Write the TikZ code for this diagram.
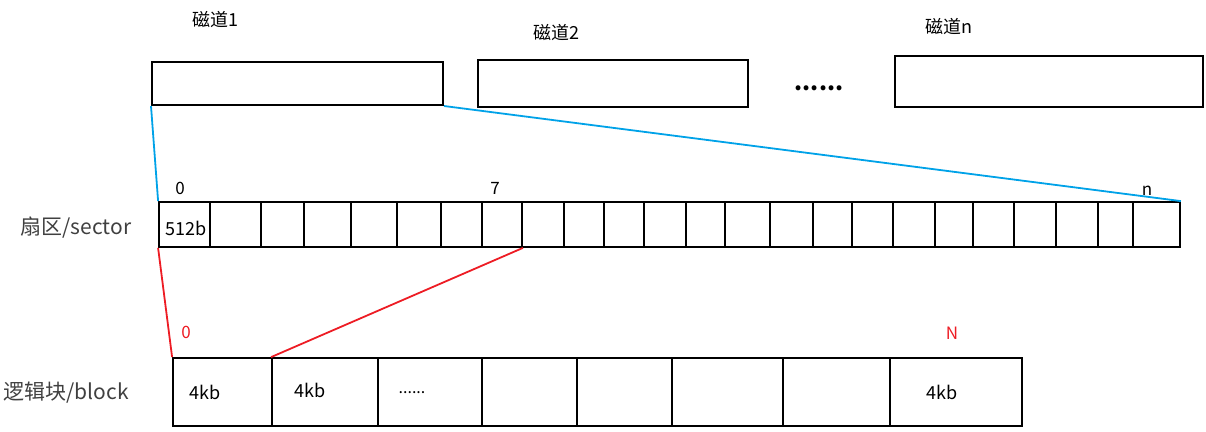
\documentclass[tikz,border=0pt]{standalone}
\usepackage{fontspec}
\setmainfont{Noto Sans CJK SC}
\usetikzlibrary{positioning}
\definecolor{paintBlue}{HTML}{00A2E8}
\definecolor{paintRed}{HTML}{ED1C24}
\definecolor{labelGray}{HTML}{404040}
\tikzset{
  track/.style={draw,line width=2pt,inner sep=0pt},
  cell/.style={draw,line width=1.8pt,minimum height=45pt,inner sep=0pt},
  blk/.style={draw,line width=1.8pt,minimum height=68pt,inner sep=0pt},
  rowname/.style={font=\fontsize{21}{23}\selectfont,text=labelGray,inner sep=0pt},
  trackname/.style={font=\fontsize{18}{20}\selectfont,inner sep=0pt},
  idx/.style={font=\fontsize{17}{19}\selectfont,inner sep=0pt},
  celltext/.style={font=\fontsize{18}{20}\selectfont,inner sep=0pt},
  blueline/.style={paintBlue,line width=1.8pt},
  redline/.style={paintRed,line width=1.8pt}
}
\begin{document}
\begin{tikzpicture}[x=1pt,y=-1pt]
  \useasboundingbox (0,0) rectangle (1206,431);
  % tracks
  \node[track,minimum width=291pt,minimum height=43pt] (t1) at (297.5,83.5) {};
  \node[track,minimum width=270pt,minimum height=47pt] (t2) at (613,83.5) {};
  \node[track,minimum width=308pt,minimum height=51pt] (tn) at (1049,81.5) {};
  \node[trackname] (t1name) at (215,20) {磁道1};
  \node[trackname] (t2name) at (556,33) {磁道2};
  \node[trackname] (tnname) at (949,27) {磁道n};
  \node[font=\fontsize{23}{25}\selectfont\bfseries,inner sep=0pt] (tdots) at (819,88) {......};
  % sectors
  \foreach \a/\b [count=\i from 0] in {159/210,210/261,261/304,304/351,351/397,397/441,441/482,482/522,522/564,564/604,604/644,644/686,686/725,725/770,770/813,813/852,852/893,893/935,935/973,973/1014,1014/1056,1056/1098,1098/1133,1133/1180}
    \node[cell,minimum width={(\b-\a)*1pt}] (s\i) at ({(\a+\b)/2},224.5) {};
  \node[rowname] (secname) at (76,228) {扇区/sector};
  \node[celltext] (s0text) at (186,228) {512b};
  \node[idx] (s0idx) at (180,188) {0};
  \node[idx] (s7idx) at (495,188) {7};
  \node[idx] (snidx) at (1147,191) {n};
  % blocks
  \foreach \a/\b [count=\i from 0] in {173/272,272/378,378/482,482/577,577/672,672/783,783/890,890/1022}
    \node[blk,minimum width={(\b-\a)*1pt}] (b\i) at ({(\a+\b)/2},392) {};
  \node[rowname] (blkname) at (66,393) {逻辑块/block};
  \node[celltext] (b0text) at (205,392) {4kb};
  \node[celltext] (b1text) at (310,390) {4kb};
  \node[font=\fontsize{16}{18}\selectfont,inner sep=0pt] (b2text) at (412,393) {......};
  \node[celltext] (b7text) at (942,392) {4kb};
  \node[idx,text=paintRed] (b0idx) at (186,332) {0};
  \node[idx,text=paintRed] (b7idx) at (952,333) {N};
  % mapping lines
  \draw[blueline] (t1.south west) -- (s0.north west);
  \draw[blueline] (t1.south east) -- (s23.north east);
  \draw[redline] (s0.south west) -- (b0.north west);
  \draw[redline] (s7.south east) -- (b1.north west);
\end{tikzpicture}
\end{document}
